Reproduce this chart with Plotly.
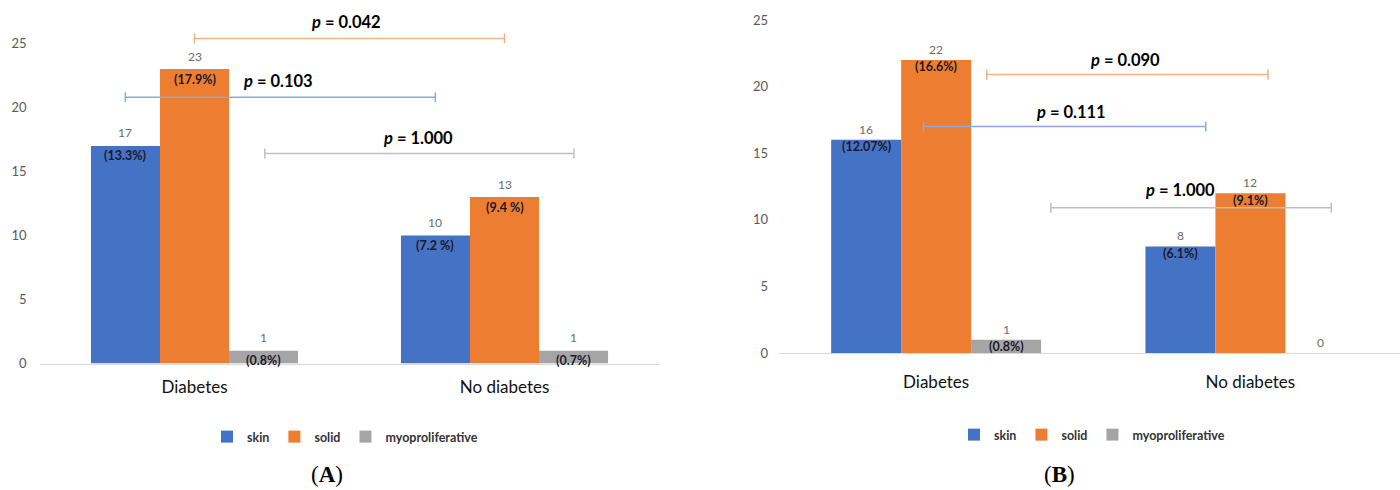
import plotly.graph_objects as go

# ---- data -------------------------------------------------------------
categories = ["Diabetes", "No diabetes"]
series = ["skin", "solid", "myoproliferative"]
colors = ["#4472C4", "#ED7D31", "#A5A5A5"]

counts_a = {"skin": [17, 10], "solid": [23, 13], "myoproliferative": [1, 1]}
pct_a = {"skin": ["(13.3%)", "(7.2 %)"], "solid": ["(17.9%)", "(9.4 %)"],
         "myoproliferative": ["(0.8%)", "(0.7%)"]}

counts_b = {"skin": [16, 8], "solid": [22, 12], "myoproliferative": [1, 0]}
pct_b = {"skin": ["(12.07%)", "(6.1%)"], "solid": ["(16.6%)", "(9.1%)"],
         "myoproliferative": ["(0.8%)", ""]}

# p-value brackets: start / end (category units), level, colour, label, label position
brackets_a = [
    dict(x0=-0.223, x1=0.777, y=20.8, color="#8FAADC", text="0.103", tx=0.27, ty=22.1),
    dict(x0=0.0, x1=1.0, y=25.4, color="#F4B183", text="0.042", tx=0.49, ty=26.7),
    dict(x0=0.227, x1=1.224, y=16.4, color="#BFBFBF", text="1.000", tx=0.72, ty=17.6),
]
brackets_b = [
    dict(x0=-0.040, x1=0.858, y=17.0, color="#8FAADC", text="0.111", tx=0.43, ty=18.1),
    dict(x0=0.161, x1=1.056, y=20.9, color="#F4B183", text="0.090", tx=0.60, ty=22.0),
    dict(x0=0.365, x1=1.257, y=10.9, color="#BFBFBF", text="1.000", tx=0.775, ty=12.2),
]

FONT = "Lato, 'Open Sans', sans-serif"
BARGAP = 0.332
BW = (1 - BARGAP) / len(series)

fig = go.Figure()
annotations = []
shapes = []


def add_panel(counts, pcts, brackets, xa, ya, legend, count_shift, pct_shift):
    xref = xa
    yref = ya
    for si, (name, col) in enumerate(zip(series, colors)):
        fig.add_trace(go.Bar(
            x=categories, y=counts[name], name=name,
            marker=dict(color=col, line=dict(width=0)),
            xaxis=xa, yaxis=ya, legend=legend, hoverinfo="skip",
        ))
        off = (si - 1) * BW
        for ci, (v, p) in enumerate(zip(counts[name], pcts[name])):
            annotations.append(dict(
                x=ci + off, y=v, xref=xref, yref=yref, text=str(v), showarrow=False,
                xanchor="center", yanchor="middle", yshift=count_shift,
                font=dict(family=FONT, size=12, color="#6b6b6b"),
            ))
            if p:
                annotations.append(dict(
                    x=ci + off, y=v, xref=xref, yref=yref, text=p, showarrow=False,
                    xanchor="center", yanchor="middle", yshift=pct_shift,
                    font=dict(family=FONT, size=12.5, color="#1a1a2a", weight="bold"),
                ))
    for b in brackets:
        line = dict(color=b["color"], width=1.5)
        shapes.append(dict(type="line", xref=xref, yref=yref, x0=b["x0"], x1=b["x1"],
                           y0=b["y"], y1=b["y"], line=line))
        for xe in (b["x0"], b["x1"]):
            shapes.append(dict(type="line", xref=xref, yref=yref, x0=xe, x1=xe,
                               ysizemode="pixel", yanchor=b["y"], y0=-5, y1=5, line=line))
        annotations.append(dict(
            x=b["tx"], y=b["ty"], xref=xref, yref=yref, showarrow=False,
            xanchor="center", yanchor="middle",
            text="<b><i>p</i> = " + b["text"] + "</b>",
            font=dict(family=FONT, size=16.5, color="#000000"),
        ))


add_panel(counts_a, pct_a, brackets_a, "x", "y", "legend", 13, -10)
add_panel(counts_b, pct_b, brackets_b, "x2", "y2", "legend2", 10.5, -7)

# panel captions
for label, cx in (("A", 327), ("B", 1059)):
    annotations.append(dict(x=cx / 1400, y=(490 - 474) / 490, xref="paper", yref="paper",
                            xanchor="center", yanchor="middle",
                            text="(<b>" + label + "</b>)", showarrow=False,
                            font=dict(family="Liberation Serif, serif", size=23,
                                      color="#000")))

xcommon = dict(type="category", showline=True, linecolor="#D9D9D9", linewidth=1,
               ticks="", showgrid=False, zeroline=False, automargin=False,
               tickfont=dict(family=FONT, size=17, color="#111111"))
ycommon = dict(showgrid=False, zeroline=False, showline=False, ticks="", automargin=False,
               tickvals=[0, 5, 10, 15, 20, 25],
               tickfont=dict(family=FONT, size=13, color="#595959"))

legend_common = dict(orientation="h", xanchor="center", yanchor="middle",
                     font=dict(family=FONT, size=12.5, color="#333333", weight="bold"),
                     itemwidth=30, bgcolor="rgba(0,0,0,0)", itemclick=False)

fig.update_layout(
    width=1400, height=490, autosize=False,
    margin=dict(l=0, r=0, t=0, b=0, pad=0),
    paper_bgcolor="white", plot_bgcolor="white",
    barmode="group", bargap=BARGAP, bargroupgap=0,
    xaxis=dict(domain=[39.5 / 1400, 659.5 / 1400], anchor="y", range=[-0.5, 1.5],
               ticklabelstandoff=8, **xcommon),
    yaxis=dict(domain=[(490 - 363.5) / 490, 1.0], anchor="x", range=[0, 28.4],
               ticklabelstandoff=12, **ycommon),
    xaxis2=dict(domain=[779 / 1400, 1.0], anchor="y2", range=[-0.5, 1.476],
                ticklabelstandoff=14, **xcommon),
    yaxis2=dict(domain=[(490 - 353) / 490, 1.0], anchor="x2", range=[0, 26.5],
                ticklabelstandoff=10, **ycommon),
    legend=dict(x=345 / 1400, y=(490 - 437) / 490, **legend_common),
    legend2=dict(x=1092 / 1400, y=(490 - 435) / 490, **legend_common),
    annotations=annotations,
    shapes=shapes,
)

fig.write_html("out.html")
